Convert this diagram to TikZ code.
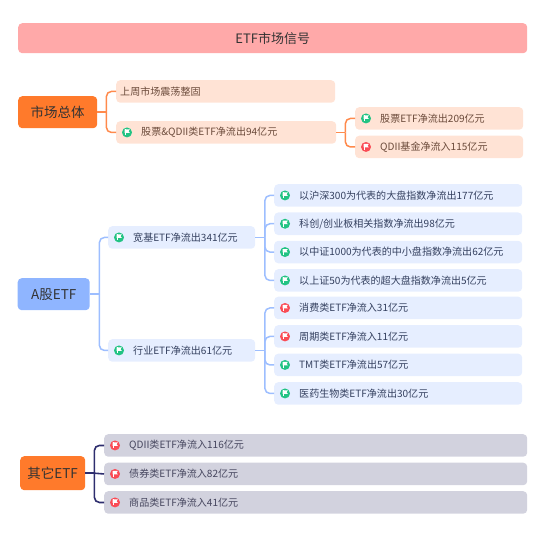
\documentclass[tikz,border=0pt]{standalone}
\usepackage{fontspec}
\setmainfont{Noto Sans CJK SC}
\usepackage{tikz}
\definecolor{titlepink}{HTML}{FFA9A9}
\definecolor{rootorange}{HTML}{FF7A2B}
\definecolor{rootblue}{HTML}{8FB5FF}
\definecolor{leafpeach}{HTML}{FFE3D5}
\definecolor{leafblue}{HTML}{E6EEFF}
\definecolor{leafgrey}{HTML}{D2D2DE}
\definecolor{linkorange}{HTML}{FF8A4C}
\definecolor{linkblue}{HTML}{9DBEFF}
\definecolor{linknavy}{HTML}{2E2E6E}
\definecolor{flaggreen}{HTML}{22C383}
\definecolor{flagred}{HTML}{FA4B55}
\definecolor{textbrown}{HTML}{6B4A3A}
\definecolor{textnavy}{HTML}{34405F}
\definecolor{textgrey}{HTML}{46465E}
\tikzset{
  box/.style={rounded corners=4pt, anchor=north west, inner xsep=0pt, inner ysep=0pt, align=left, font=\fontsize{10.05}{12}\selectfont},
  rootbox/.style={box, align=center, text=black!80, font=\fontsize{13.5}{15}\selectfont},
  leaf/.style 2 args={box, fill=#1, text=#2, minimum height=22.5pt},
  flag/.style={path picture={
    \fill[#1] ([xshift=10.8pt]path picture bounding box.west) circle (5pt);
    \fill[white, sharp corners] ([xshift=8.4pt,yshift=-3pt]path picture bounding box.west) rectangle ++(0.9pt,6pt);
    \fill[white, sharp corners] ([xshift=8.4pt,yshift=3pt]path picture bounding box.west) -- ++(5.2pt,0pt) -- ++(-1.3pt,-1.7pt) -- ++(1.3pt,-1.7pt) -- ++(-5.2pt,0pt) -- cycle;
  }},
  peachlink/.style={draw=linkorange, line width=1.5pt, rounded corners=5pt},
  bluelink/.style={draw=linkblue, line width=1.5pt, rounded corners=5pt},
  navylink/.style={draw=linknavy, line width=1.6pt, rounded corners=5pt},
}
% width of a box minus the space in front of its text
\newcommand{\plain}[2]{\parbox{#1pt}{\hspace*{4pt}#2}}
\newcommand{\flagged}[2]{\parbox{#1pt}{\hspace*{25pt}#2}}
\begin{document}
\begin{tikzpicture}[x=1pt,y=-1pt]
\useasboundingbox (0,0) rectangle (554,540);
% title
\node[box, fill=titlepink, minimum width=509pt, minimum height=30pt, align=center, text=black!80, font=\fontsize{13}{15}\selectfont] (title) at (18,23) {\parbox{509pt}{\centering ETF市场信号}};

% market overview
\node[rootbox, fill=rootorange, minimum width=79pt, minimum height=32pt] (market) at (18,96) {市场总体};
\node[leaf={leafpeach}{textbrown}, minimum width=219pt] (weekly) at (116,80) {\plain{219}{上周市场震荡整固}};
\node[leaf={leafpeach}{textbrown}, minimum width=220pt, flag=flaggreen] (outflow) at (116,121) {\flagged{220}{股票\&QDII类ETF净流出94亿元}};
\node[leaf={leafpeach}{textbrown}, minimum width=168pt, flag=flaggreen] (stocketf) at (355,107) {\flagged{168}{股票ETF净流出209亿元}};
\node[leaf={leafpeach}{textbrown}, minimum width=168pt, flag=flagred] (qdiifund) at (355,135.5) {\flagged{168}{QDII基金净流入115亿元}};
\draw[peachlink] (market.east) -- ++(9,0) coordinate (marketfork);
\draw[peachlink] (marketfork) |- (weekly.west);
\draw[peachlink] (marketfork) |- (outflow.west);
\draw[peachlink] (outflow.east) -- ++(9,0) coordinate (outflowfork);
\draw[peachlink] (outflowfork) |- (stocketf.west);
\draw[peachlink] (outflowfork) |- (qdiifund.west);

% A shares
\node[rootbox, fill=rootblue, minimum width=72pt, minimum height=32pt] (ashare) at (17.5,278) {A股ETF};
\node[leaf={leafblue}{textnavy}, minimum width=147pt, flag=flaggreen] (broad) at (108,226) {\flagged{147}{宽基ETF净流出341亿元}};
\node[leaf={leafblue}{textnavy}, minimum width=147pt, flag=flaggreen] (sector) at (108,339) {\flagged{147}{行业ETF净流出61亿元}};
\node[leaf={leafblue}{textnavy}, minimum width=248pt, flag=flaggreen] (hs300) at (274,184) {\flagged{248}{以沪深300为代表的大盘指数净流出177亿元}};
\node[leaf={leafblue}{textnavy}, minimum width=248pt, flag=flaggreen] (star) at (274,212.3) {\flagged{248}{科创/创业板相关指数净流出98亿元}};
\node[leaf={leafblue}{textnavy}, minimum width=248pt, flag=flaggreen] (csi1000) at (274,240.6) {\flagged{248}{以中证1000为代表的中小盘指数净流出62亿元}};
\node[leaf={leafblue}{textnavy}, minimum width=248pt, flag=flaggreen] (sse50) at (274,269) {\flagged{248}{以上证50为代表的超大盘指数净流出5亿元}};
\node[leaf={leafblue}{textnavy}, minimum width=248pt, flag=flagred] (consumer) at (274,296.5) {\flagged{248}{消费类ETF净流入31亿元}};
\node[leaf={leafblue}{textnavy}, minimum width=248pt, flag=flagred] (cycle) at (274,325) {\flagged{248}{周期类ETF净流入11亿元}};
\node[leaf={leafblue}{textnavy}, minimum width=248pt, flag=flaggreen] (tmt) at (274,353.5) {\flagged{248}{TMT类ETF净流出57亿元}};
\node[leaf={leafblue}{textnavy}, minimum width=248pt, flag=flaggreen] (biotech) at (274,382) {\flagged{248}{医药生物类ETF净流出30亿元}};
\draw[bluelink] (ashare.east) -- ++(9.5,0) coordinate (asharefork);
\draw[bluelink] (asharefork) |- (broad.west);
\draw[bluelink] (asharefork) |- (sector.west);
\draw[bluelink] (broad.east) -- ++(9.5,0) coordinate (broadfork);
\draw[bluelink] (broadfork) |- (hs300.west);
\draw[bluelink] (broadfork) |- (star.west);
\draw[bluelink] (broadfork) |- (csi1000.west);
\draw[bluelink] (broadfork) |- (sse50.west);
\draw[bluelink] (sector.east) -- ++(9.5,0) coordinate (sectorfork);
\draw[bluelink] (sectorfork) |- (consumer.west);
\draw[bluelink] (sectorfork) |- (cycle.west);
\draw[bluelink] (sectorfork) |- (tmt.west);
\draw[bluelink] (sectorfork) |- (biotech.west);

% other ETF
\node[rootbox, fill=rootorange, minimum width=65pt, minimum height=34pt] (other) at (20,456) {其它ETF};
\node[leaf={leafgrey}{textgrey}, minimum width=423pt, flag=flagred] (qdii) at (104,434) {\flagged{423}{QDII类ETF净流入116亿元}};
\node[leaf={leafgrey}{textgrey}, minimum width=423pt, flag=flagred] (bond) at (104,462.5) {\flagged{423}{债券类ETF净流入82亿元}};
\node[leaf={leafgrey}{textgrey}, minimum width=423pt, flag=flagred] (commodity) at (104,491) {\flagged{423}{商品类ETF净流入41亿元}};
\draw[navylink] (other.east) -- ++(9,0) coordinate (otherfork);
\draw[navylink] (otherfork) |- (qdii.west);
\draw[navylink] (otherfork) -- (bond.west);
\draw[navylink] (otherfork) |- (commodity.west);
\end{tikzpicture}
\end{document}
